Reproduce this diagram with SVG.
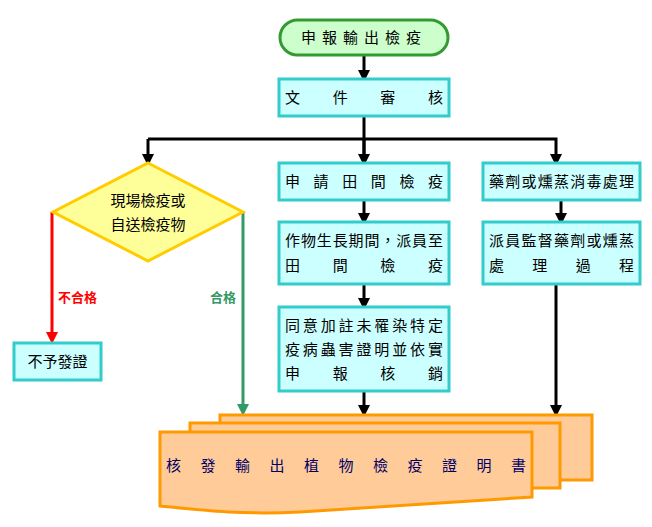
<svg xmlns="http://www.w3.org/2000/svg" width="652" height="527" viewBox="0 0 652 527">
<style>
.box{fill:#ccffff;stroke:#33cccc;stroke-width:3}
.t{font-family:"Noto Sans CJK TC","Noto Sans CJK SC",sans-serif;font-size:15px;fill:#000}
.c{stroke:#000;stroke-width:3;fill:none}
.doc{fill:#ffcc99;stroke:#ff9900;stroke-width:3}
</style>
<defs>
<marker id="ab" markerWidth="4" markerHeight="4" refX="2" refY="2" orient="auto" markerUnits="strokeWidth"><path d="M0,0L4,2L0,4z" fill="#000"/></marker>
<marker id="ar" markerWidth="4" markerHeight="4" refX="2" refY="2" orient="auto" markerUnits="strokeWidth"><path d="M0,0L4,2L0,4z" fill="#ff0000"/></marker>
<marker id="ag" markerWidth="4" markerHeight="4" refX="2" refY="2" orient="auto" markerUnits="strokeWidth"><path d="M0,0L4,2L0,4z" fill="#339966"/></marker>
</defs>
<g id="connectors">
<path class="c" d="M364,55V76" marker-end="url(#ab)"/>
<path class="c" d="M364,116V160"/>
<path class="c" d="M148,139H556V160" marker-end="url(#ab)"/>
<path class="c" d="M148,139V160" marker-end="url(#ab)"/>
<path class="c" d="M364,139V160" marker-end="url(#ab)"/>
<path class="c" d="M364,200V219" marker-end="url(#ab)"/>
<path class="c" d="M561,200V219" marker-end="url(#ab)"/>
<path class="c" d="M364,284V304" marker-end="url(#ab)"/>
<path class="c" d="M364,390V411" marker-end="url(#ab)"/>
<path class="c" d="M556,284V411" marker-end="url(#ab)"/>
<path d="M52,212V338" stroke="#ff0000" stroke-width="3" fill="none" marker-end="url(#ar)"/>
<path d="M243,212V410" stroke="#339966" stroke-width="3" fill="none" marker-end="url(#ag)"/>
<text x="58" y="302" font-family="Noto Sans CJK TC,sans-serif" font-size="13" font-weight="bold" fill="#ff0000">不合格</text>
<text x="210" y="302" font-family="Noto Sans CJK TC,sans-serif" font-size="13" font-weight="bold" fill="#339966">合格</text>
</g>
<g id="start"><rect x="280" y="20" width="168" height="35" rx="17.5" fill="#ccffcc" stroke="#339933" stroke-width="3"/><text class="t" x="364" y="43" text-anchor="middle" letter-spacing="6">申報輸出檢疫</text></g>
<g id="review"><rect class="box" x="279" y="79" width="170" height="37"/><text class="t" x="285" y="103" textLength="158" lengthAdjust="spacing">文件審核</text></g>
<g id="apply"><rect class="box" x="279" y="163" width="170" height="37"/><text class="t" x="285" y="187" textLength="158" lengthAdjust="spacing">申請田間檢疫</text></g>
<g id="field"><rect class="box" x="279" y="222" width="170" height="62"/><text class="t" x="285" y="246" textLength="158" lengthAdjust="spacing">作物生長期間，派員至</text><text class="t" x="285" y="271" textLength="158" lengthAdjust="spacing">田間檢疫</text></g>
<g id="agree"><rect class="box" x="279" y="307" width="170" height="84"/><text class="t" x="285" y="331" textLength="158" lengthAdjust="spacing">同意加註未罹染特定</text><text class="t" x="285" y="355" textLength="158" lengthAdjust="spacing">疫病蟲害證明並依實</text><text class="t" x="285" y="379" textLength="158" lengthAdjust="spacing">申報核銷</text></g>
<g id="treat"><rect class="box" x="483" y="163" width="157" height="37"/><text class="t" x="489" y="187" textLength="145" lengthAdjust="spacing">藥劑或燻蒸消毒處理</text></g>
<g id="supervise"><rect class="box" x="483" y="222" width="157" height="62"/><text class="t" x="489" y="246" textLength="145" lengthAdjust="spacing">派員監督藥劑或燻蒸</text><text class="t" x="489" y="271" textLength="145" lengthAdjust="spacing">處理過程</text></g>
<g id="decision"><polygon points="148,163 243,212 148,261 53,212" fill="#ffff99" stroke="#ffcc00" stroke-width="3"/><text class="t" x="148" y="206" text-anchor="middle">現場檢疫或</text><text class="t" x="148" y="230" text-anchor="middle">自送檢疫物</text></g>
<g id="reject"><rect class="box" x="14" y="343" width="87" height="37"/><text class="t" x="57.5" y="367" text-anchor="middle">不予發證</text></g>
<g id="certificate">
<rect class="doc" x="220" y="415" width="372" height="65"/>
<rect class="doc" x="190" y="423" width="370" height="65"/>
<path class="doc" d="M160,432H532V497C480,500 400,505 300,512C240,515 200,510 160,506Z"/>
<text x="166" y="471" font-family="Noto Sans CJK TC,sans-serif" font-size="15" fill="#000066" textLength="360" lengthAdjust="spacing">核發輸出植物檢疫證明書</text>
</g>
</svg>
